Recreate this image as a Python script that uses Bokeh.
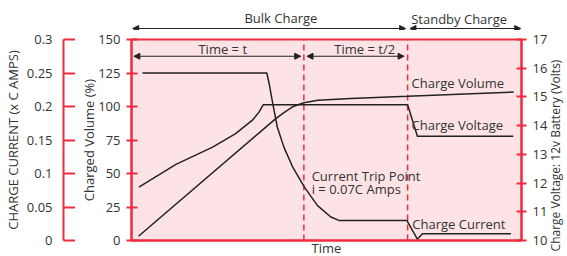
import math
from bokeh.plotting import figure
from bokeh.layouts import column, row
from bokeh.models import (Range1d, FixedTicker, Label, Arrow, LinearAxis,
                          NormalHead, CustomJSTickFormatter)
from bokeh.embed import file_html
from bokeh.resources import INLINE

# ---------------- data ----------------
t_current = [2.8, 34.7, 35.3, 36.2, 37.4, 39.1, 41.3, 44.3, 47.7, 51.1, 53.2, 70.6, 73.3, 74.6, 97.3]
current = [0.25, 0.25, 0.234, 0.205, 0.169, 0.139, 0.110, 0.080, 0.052, 0.035, 0.030, 0.030, 0.002, 0.010, 0.010]

t_voltage = [1.9, 11.4, 20.8, 26.7, 31.0, 32.7, 33.8, 70.8, 73.3, 97.9]
voltage = [11.86, 12.65, 13.25, 13.72, 14.19, 14.47, 14.73, 14.73, 13.63, 13.63]

t_volume = [1.8, 37.0, 39.0, 41.3, 44.2, 47.8, 56.2, 70.8, 98.0]
volume = [3.2, 91.0, 95.3, 99.8, 102.8, 104.6, 105.9, 107.6, 110.8]

phase_bounds = [44.2, 70.8]          # current trip point, start of standby

volume_ticks = [0, 25, 50, 75, 100, 125, 150]
current_ticks = [0, 0.05, 0.1, 0.15, 0.2, 0.25, 0.3]
volt_ticks = [10, 11, 12, 13, 14, 15, 16, 17]

# ---------------- style ----------------
RED = "#ef2b3d"
PINK = "#fde3e6"
INK = "#333333"
ARROW = "#222222"
FONT = "Open Sans"
FS = "13px"

FRAME_H = 201
TOP_H = 30        # header strip height
MAIN_TOP = 9      # main figure border above the frame
BOTTOM = 16
LEFT_W = 75       # width of the outer (current) axis figure
MAIN_LEFT = 56
MAIN_RIGHT = 26
RIGHT_W = 20


def style_axis(ax):
    ax.axis_line_color = RED
    ax.axis_line_width = 2
    ax.major_tick_line_color = RED
    ax.major_tick_line_width = 2
    ax.minor_tick_line_color = None
    ax.major_label_text_font = FONT
    ax.major_label_text_font_size = FS
    ax.major_label_text_color = INK
    ax.axis_label_text_font = FONT
    ax.axis_label_text_font_size = FS
    ax.axis_label_text_font_style = "normal"
    ax.axis_label_text_color = INK


def blank(fig):
    fig.outline_line_color = None
    fig.grid.visible = False
    fig.background_fill_color = "white"
    fig.border_fill_color = "white"


x_range = Range1d(0, 100)

# ---- outer left figure: charge current axis ----
cur = figure(frame_width=12, frame_height=FRAME_H, x_range=Range1d(0, 1),
             y_range=Range1d(0, 0.3), output_backend="svg", toolbar_location=None,
             x_axis_location=None,
             min_border_left=LEFT_W - 12, min_border_right=0,
             min_border_top=MAIN_TOP + TOP_H, min_border_bottom=BOTTOM)
blank(cur)
cy = cur.yaxis[0]
style_axis(cy)
cy.ticker = FixedTicker(ticks=current_ticks)
cy.formatter = CustomJSTickFormatter(code="return String(tick)")
cy.major_tick_out = 0
cy.major_tick_in = 12
cy.major_label_standoff = 11
cy.axis_label = "CHARGE CURRENT (x C AMPS)"
cy.axis_label_standoff = 2

# ---- header strip (phase arrows above the chart) ----
top = figure(frame_width=390, frame_height=TOP_H, x_range=x_range, y_range=Range1d(0, TOP_H),
             output_backend="svg", toolbar_location=None,
             x_axis_location=None, y_axis_location=None,
             min_border_left=MAIN_LEFT, min_border_right=MAIN_RIGHT,
             min_border_top=0, min_border_bottom=0)
blank(top)

# ---- main chart ----
p = figure(frame_width=390, frame_height=FRAME_H,
           x_range=x_range, y_range=Range1d(0, 150),
           output_backend="svg", toolbar_location=None,
           min_border_left=MAIN_LEFT, min_border_right=MAIN_RIGHT,
           min_border_top=MAIN_TOP, min_border_bottom=BOTTOM)
p.extra_y_ranges = {"current": Range1d(0, 0.3), "volt": Range1d(10, 17)}
p.background_fill_color = PINK
p.border_fill_color = "white"
p.outline_line_color = RED
p.outline_line_width = 2
p.grid.visible = False

vy = p.yaxis[0]
style_axis(vy)
vy.ticker = FixedTicker(ticks=volume_ticks)
vy.major_tick_out = 5
vy.major_tick_in = 6
vy.major_label_standoff = 6
vy.axis_label = "Charged Volume (%)"
vy.axis_label_standoff = -3

ry = LinearAxis(y_range_name="volt")
style_axis(ry)
ry.ticker = FixedTicker(ticks=volt_ticks)
ry.major_tick_out = 5
ry.major_tick_in = 5
ry.major_label_standoff = 6
p.add_layout(ry, "right")

xa = p.xaxis[0]
style_axis(xa)
xa.ticker = FixedTicker(ticks=[])
xa.major_tick_out = 0
xa.major_tick_in = 0
xa.major_label_standoff = 0
xa.axis_label = "Time"
xa.axis_label_standoff = -2

# phase boundaries (dashed)
p.segment(x0=phase_bounds, y0=[0, 0], x1=phase_bounds, y1=[150, 150],
          line_color=RED, line_width=1.5, line_dash="6 4")

# curves
p.line(t_volume, volume, line_color=ARROW, line_width=1.5)
p.line(t_current, current, y_range_name="current", line_color=ARROW, line_width=1.5)
p.line(t_voltage, voltage, y_range_name="volt", line_color=ARROW, line_width=1.5)

# ---- right strip: voltage axis title ----
TOTAL_H = TOP_H + MAIN_TOP + FRAME_H + BOTTOM
rt = figure(frame_width=RIGHT_W, frame_height=TOTAL_H,
            x_range=Range1d(0, RIGHT_W), y_range=Range1d(0, TOTAL_H),
            output_backend="svg", toolbar_location=None,
            x_axis_location=None, y_axis_location=None,
            min_border_left=0, min_border_right=0, min_border_top=0, min_border_bottom=0)
blank(rt)
rt.add_layout(Label(x=5, y=140, text="Charge Voltage: 12v Battery (Volts)",
                    angle=math.pi / 2, text_align="center", text_baseline="middle",
                    text_font=FONT, text_font_size="12px", text_color=INK))


def arrow(fig, x0, x1, y):
    fig.add_layout(Arrow(x_start=x0, x_end=x1, y_start=y, y_end=y,
                         line_color=ARROW, line_width=1.2,
                         start=NormalHead(size=6, fill_color=ARROW, line_color=ARROW),
                         end=NormalHead(size=6, fill_color=ARROW, line_color=ARROW)))


def label(fig, x, y, text, align="center"):
    fig.add_layout(Label(x=x, y=y, text=text, text_align=align, text_baseline="middle",
                         text_font=FONT, text_font_size=FS, text_color=INK))


arrow(top, 0.3, phase_bounds[1] - 0.5, 2.0)
arrow(top, phase_bounds[1] + 0.6, 99.8, 2.0)
label(top, 38.3, 12.5, "Bulk Charge")
label(top, 84.0, 12.0, "Standby Charge")

arrow(p, 0.6, phase_bounds[0] - 0.8, 137.5)
arrow(p, phase_bounds[0] + 0.8, phase_bounds[1] - 0.9, 137.5)
label(p, 23.4, 142.6, "Time = t")
label(p, 59.8, 142.8, "Time = t/2")
label(p, 71.8, 117.3, "Charge Volume", "left")
label(p, 71.8, 86.0, "Charge Voltage", "left")
label(p, 72.0, 12.5, "Charge Current", "left")
label(p, 46.2, 48.0, "Current Trip Point", "left")
label(p, 46.2, 38.6, "i = 0.07C Amps", "left")

layout = row(cur, column(top, p, spacing=0), rt, spacing=0)
open("out.html", "w").write(file_html(layout, INLINE))
